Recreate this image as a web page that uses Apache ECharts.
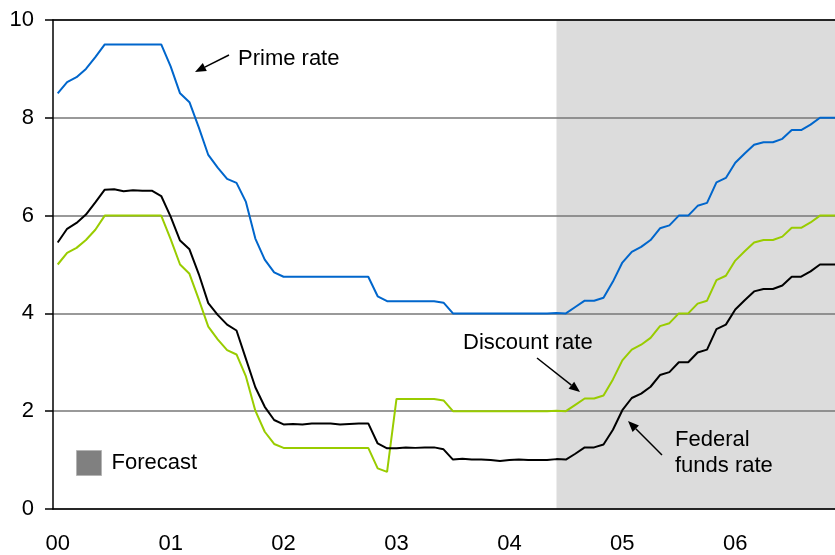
<!DOCTYPE html>
<html>
<head>
<meta charset="utf-8">
<script src="https://cdn.jsdelivr.net/npm/echarts@6/dist/echarts.min.js"></script>
<style>
  html, body { margin: 0; padding: 0; background: #fff; overflow: hidden; }
  /* 画布比窗口略宽, 右侧被裁掉, 与原图一致 */
  #chart { width: 845px; height: 555px; }
</style>
</head>
<body>
<div id="chart"></div>
<script>
// 月份类目 2000-01 ... 2006-12
const years = ['2000', '2001', '2002', '2003', '2004', '2005', '2006']
const monthNums = ['01', '02', '03', '04', '05', '06', '07', '08', '09', '10', '11', '12']
const months = []
years.forEach(y => monthNums.forEach(m => months.push(y + '-' + m)))

// 预测区间
const forecastStart = '2004-06'
const forecastEnd = '2006-12'

// 各利率 (%), 按月
const primeRate = [
  8.50, 8.73, 8.83, 9.00, 9.24, 9.50, 9.50, 9.50, 9.50, 9.50, 9.50, 9.50,
  9.05, 8.50, 8.32, 7.80, 7.24, 6.98, 6.75, 6.67, 6.28, 5.53, 5.10, 4.84,
  4.75, 4.75, 4.75, 4.75, 4.75, 4.75, 4.75, 4.75, 4.75, 4.75, 4.35, 4.25,
  4.25, 4.25, 4.25, 4.25, 4.25, 4.22, 4.00, 4.00, 4.00, 4.00, 4.00, 4.00,
  4.00, 4.00, 4.00, 4.00, 4.00, 4.01, 4.00, 4.13, 4.26, 4.26, 4.32, 4.65,
  5.04, 5.26, 5.36, 5.50, 5.74, 5.80, 6.00, 6.00, 6.20, 6.26, 6.68, 6.77,
  7.08, 7.27, 7.45, 7.50, 7.50, 7.57, 7.75, 7.75, 7.86, 8.00, 8.00, 8.00
]
const discountRate = [
  5.00, 5.24, 5.34, 5.50, 5.71, 6.00, 6.00, 6.00, 6.00, 6.00, 6.00, 6.00,
  5.52, 5.00, 4.81, 4.28, 3.73, 3.47, 3.25, 3.16, 2.71, 2.01, 1.58, 1.33,
  1.25, 1.25, 1.25, 1.25, 1.25, 1.25, 1.25, 1.25, 1.25, 1.25, 0.83, 0.76,
  2.25, 2.25, 2.25, 2.25, 2.25, 2.22, 2.00, 2.00, 2.00, 2.00, 2.00, 2.00,
  2.00, 2.00, 2.00, 2.00, 2.00, 2.01, 2.00, 2.13, 2.26, 2.26, 2.32, 2.65,
  3.04, 3.26, 3.36, 3.50, 3.74, 3.80, 4.00, 4.00, 4.20, 4.26, 4.68, 4.77,
  5.08, 5.27, 5.45, 5.50, 5.50, 5.57, 5.75, 5.75, 5.86, 6.00, 6.00, 6.00
]
const fedFundsRate = [
  5.45, 5.73, 5.85, 6.02, 6.27, 6.53, 6.54, 6.50, 6.52, 6.51, 6.51, 6.40,
  5.98, 5.49, 5.31, 4.80, 4.21, 3.97, 3.77, 3.65, 3.07, 2.49, 2.09, 1.82,
  1.73, 1.74, 1.73, 1.75, 1.75, 1.75, 1.73, 1.74, 1.75, 1.75, 1.34, 1.24,
  1.24, 1.26, 1.25, 1.26, 1.26, 1.22, 1.01, 1.03, 1.01, 1.01, 1.00, 0.98,
  1.00, 1.01, 1.00, 1.00, 1.00, 1.02, 1.01, 1.13, 1.26, 1.26, 1.32, 1.62,
  2.02, 2.27, 2.36, 2.50, 2.74, 2.80, 3.00, 3.00, 3.20, 3.26, 3.68, 3.77,
  4.08, 4.27, 4.45, 4.50, 4.50, 4.57, 4.75, 4.75, 4.86, 5.00, 5.00, 5.00
]

const FONT = '"Liberation Sans", Arial, sans-serif'

// 箭头: 从 (x1,y1) 指向 (x2,y2)
function arrow(x1, y1, x2, y2) {
  const a = Math.atan2(y2 - y1, x2 - x1)
  const len = 11
  const half = 4.5
  const bx = x2 - len * Math.cos(a)
  const by = y2 - len * Math.sin(a)
  const px = -Math.sin(a) * half
  const py = Math.cos(a) * half
  return [
    { type: 'line', z: 20, shape: { x1: x1, y1: y1, x2: bx, y2: by }, style: { stroke: '#000', lineWidth: 1.5 } },
    { type: 'polygon', z: 20, shape: { points: [[x2, y2], [bx + px, by + py], [bx - px, by - py]] }, style: { fill: '#000' } }
  ]
}

function label(text, x, y) {
  return {
    type: 'text', x: x, y: y, z: 20,
    style: { text: text, font: '22px ' + FONT, fill: '#000', align: 'left', verticalAlign: 'middle', lineHeight: 26 }
  }
}

const chart = echarts.init(document.getElementById('chart'))

const option = {
  animation: false,
  backgroundColor: '#fff',
  grid: { left: 53, top: 20, width: 790.5, height: 492 },
  legend: {
    left: 76, top: 450, padding: 0,
    itemWidth: 25, itemHeight: 25,
    selectedMode: false,
    textStyle: { fontSize: 22, fontFamily: FONT, color: '#000', padding: [10, 0, 0, 5] },
    data: [{ name: 'Forecast', icon: 'rect', itemStyle: { color: '#808080', borderColor: '#b4b4b4', borderWidth: 1 } }]
  },
  xAxis: [
    {
      type: 'category',
      data: months,
      boundaryGap: true,
      z: 1,
      axisLine: { lineStyle: { color: '#000', width: 1.5 } },
      axisTick: { interval: 11, length: 7, lineStyle: { color: '#000', width: 1.5 } },
      axisLabel: {
        interval: 11, margin: 24, fontSize: 22, fontFamily: FONT, color: '#000',
        formatter: v => v.slice(2, 4)
      },
      splitLine: { show: false }
    },
    {
      type: 'category',
      data: months,
      position: 'top',
      z: 1,
      axisLine: { lineStyle: { color: '#000', width: 1.5 } },
      axisTick: { show: false },
      axisLabel: { show: false },
      splitLine: { show: false }
    }
  ],
  yAxis: {
    type: 'value',
    min: 0, max: 10, interval: 2,
    z: 1,
    axisLine: { show: true, lineStyle: { color: '#000', width: 1.5 } },
    axisTick: { show: true, length: 8, lineStyle: { color: '#000', width: 1.5 } },
    axisLabel: { margin: 19, fontSize: 22, fontFamily: FONT, color: '#000' },
    splitLine: { lineStyle: { color: '#777', width: 1.5 } }
  },
  series: [
    {
      name: 'Forecast',
      type: 'line',
      data: [],
      itemStyle: { color: '#808080' },
      markArea: {
        silent: true,
        z: 0,
        itemStyle: { color: '#dcdcdc' },
        data: [[{ xAxis: forecastStart }, { xAxis: forecastEnd }]]
      }
    },
    {
      name: 'Prime rate', type: 'line', data: primeRate, symbol: 'none', z: 3,
      lineStyle: { color: '#0066cc', width: 2 }
    },
    {
      name: 'Discount rate', type: 'line', data: discountRate, symbol: 'none', z: 3,
      lineStyle: { color: '#99cc00', width: 2 }
    },
    {
      name: 'Federal funds rate', type: 'line', data: fedFundsRate, symbol: 'none', z: 3,
      lineStyle: { color: '#000', width: 2 }
    }
  ],
  graphic: [
    label('Prime rate', 238, 59),
    label('Discount rate', 463, 343),
    label('Federal\nfunds rate', 675, 453)
  ].concat(arrow(229, 55, 195, 72), arrow(537, 358, 580, 392), arrow(662, 455, 628, 421))
}

chart.setOption(option)
</script>
</body>
</html>
